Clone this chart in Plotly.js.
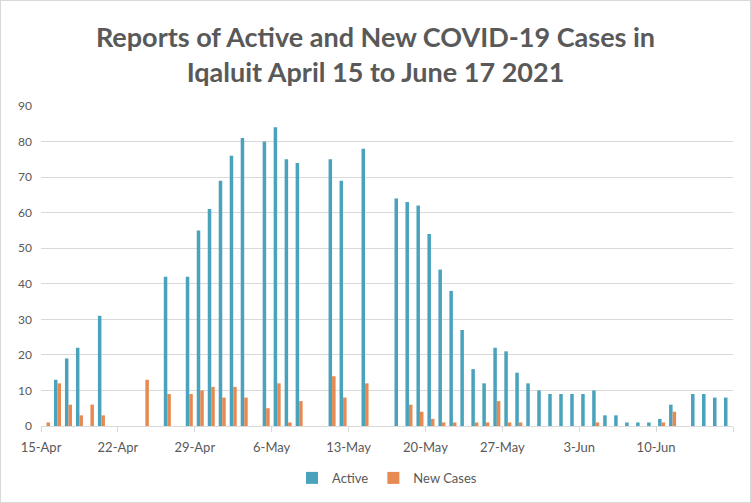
<!DOCTYPE html>
<html>
<head>
<meta charset="utf-8">
<script src="https://cdn.plot.ly/plotly-3.0.1.min.js"></script>
<style>
  html, body { margin: 0; padding: 0; background: #ffffff; }
  #wrap { width: 751px; height: 503px; box-sizing: border-box; border: 1px solid #d9d9d9; }
  #chart { width: 749px; height: 501px; }
</style>
</head>
<body>
<div id="wrap"><div id="chart"></div></div>
<script>
const dates = [
  "2021-04-15","2021-04-16","2021-04-17","2021-04-18","2021-04-19","2021-04-20","2021-04-21","2021-04-22",
  "2021-04-23","2021-04-24","2021-04-25","2021-04-26","2021-04-27","2021-04-28","2021-04-29","2021-04-30",
  "2021-05-01","2021-05-02","2021-05-03","2021-05-04","2021-05-05","2021-05-06","2021-05-07","2021-05-08",
  "2021-05-09","2021-05-10","2021-05-11","2021-05-12","2021-05-13","2021-05-14","2021-05-15","2021-05-16",
  "2021-05-17","2021-05-18","2021-05-19","2021-05-20","2021-05-21","2021-05-22","2021-05-23","2021-05-24",
  "2021-05-25","2021-05-26","2021-05-27","2021-05-28","2021-05-29","2021-05-30","2021-05-31","2021-06-01",
  "2021-06-02","2021-06-03","2021-06-04","2021-06-05","2021-06-06","2021-06-07","2021-06-08","2021-06-09",
  "2021-06-10","2021-06-11","2021-06-12","2021-06-13","2021-06-14","2021-06-15","2021-06-16"
];

const active = [
  null, 13, 19, 22, null, 31, null, null,
  null, null, null, 42, null, 42, 55, 61,
  69, 76, 81, null, 80, 84, 75, 74,
  null, null, 75, 69, null, 78, null, null,
  64, 63, 62, 54, 44, 38, 27, 16,
  12, 22, 21, 15, 12, 10, 9, 9,
  9, 9, 10, 3, 3, 1, 1, 1,
  2, 6, null, 9, 9, 8, 8
];

const newCases = [
  1, 12, 6, 3, 6, 3, null, null,
  null, 13, null, 9, null, 9, 10, 11,
  8, 11, 8, null, 5, 12, 1, 7,
  null, null, 14, 8, null, 12, null, null,
  null, 6, 4, 2, 1, 1, null, 1,
  1, 7, 1, 1, null, null, null, null,
  null, null, 1, null, null, null, null, null,
  1, 4, null, null, null, null, null
];

const tickDates = ["2021-04-15","2021-04-22","2021-04-29","2021-05-06","2021-05-13","2021-05-20","2021-05-27","2021-06-03","2021-06-10","2021-06-17"];
const tickLabels = ["15-Apr","22-Apr","29-Apr","6-May","13-May","20-May","27-May","3-Jun","10-Jun",""];

const seriesNames = ["Active", "New Cases"];
const seriesColors = ["#4aa3bd", "#e68a52"];

const fontFam = "Lato, 'Open Sans', 'DejaVu Sans', sans-serif";
const DAY = 86400000;

const traces = [active, newCases].map((vals, i) => ({
  type: "bar",
  name: seriesNames[i],
  x: dates,
  y: vals,
  xperiod: DAY,
  xperiodalignment: "middle",
  marker: { color: seriesColors[i] },
  hoverinfo: "skip"
}));

const layout = {
  width: 749,
  height: 501,
  margin: { l: 40, r: 17, t: 105, b: 76, autoexpand: false },
  paper_bgcolor: "#ffffff",
  plot_bgcolor: "#ffffff",
  font: { family: fontFam, color: "#595959", size: 13 },
  title: {
    text: "<b>Reports of Active and New COVID-19 Cases in<br>Iqaluit April 15 to June 17 2021</b>",
    font: { family: fontFam, size: 27, color: "#595959" },
    x: 0.5,
    xanchor: "center",
    yref: "container",
    y: 0.908,
    yanchor: "middle",
    automargin: false
  },
  barmode: "group",
  bargap: 0.36,
  bargroupgap: 0,
  showlegend: true,
  legend: {
    orientation: "h",
    x: 0.5,
    xanchor: "center",
    yref: "container",
    y: 0.048,
    yanchor: "middle",
    font: { family: fontFam, size: 13, color: "#595959" },
    itemwidth: 30,
    traceorder: "normal"
  },
  xaxis: {
    type: "date",
    range: ["2021-04-15", "2021-06-17"],
    tickvals: tickDates,
    ticktext: tickLabels,
    showgrid: false,
    showline: true,
    linecolor: "#d9d9d9",
    linewidth: 1,
    ticks: "outside",
    ticklen: 5,
    tickcolor: "#d9d9d9",
    ticklabelstandoff: 4,
    automargin: false,
    tickfont: { family: fontFam, size: 13, color: "#595959" },
    fixedrange: true
  },
  yaxis: {
    range: [0, 90],
    dtick: 10,
    tick0: 0,
    showgrid: true,
    gridcolor: "#d9d9d9",
    gridwidth: 1,
    zeroline: false,
    showline: false,
    ticks: "",
    ticklabelstandoff: 8,
    automargin: false,
    tickfont: { family: fontFam, size: 12, color: "#595959" },
    fixedrange: true
  }
};

Plotly.newPlot("chart", traces, layout, { displayModeBar: false, staticPlot: true });
</script>
</body>
</html>
